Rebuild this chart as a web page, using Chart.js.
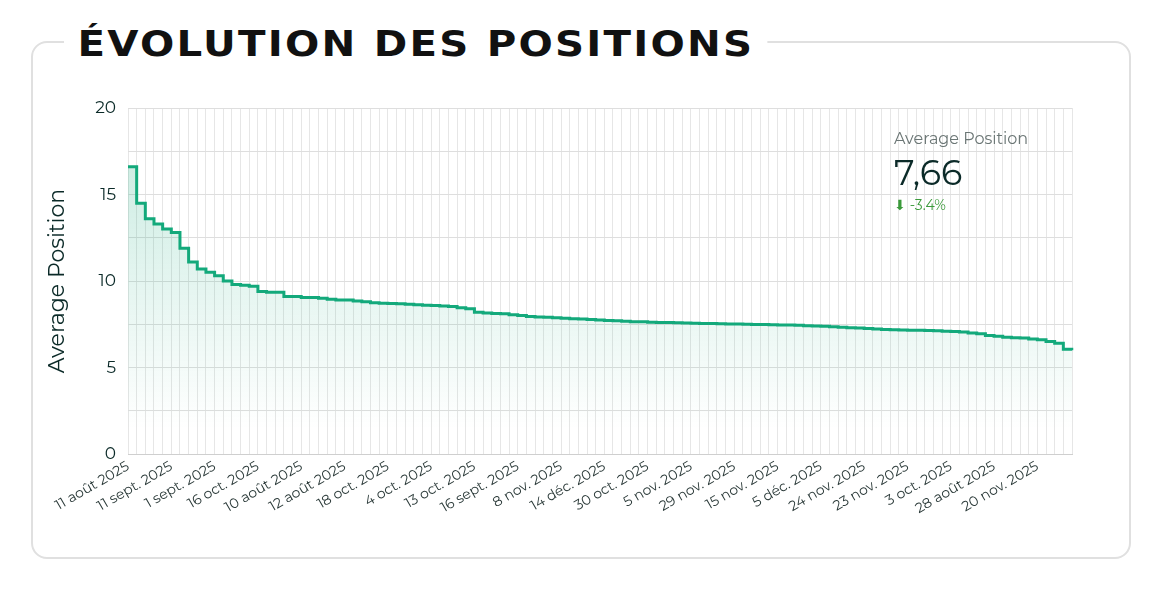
<!DOCTYPE html>
<html><head><meta charset="utf-8">
<script src="https://cdn.jsdelivr.net/npm/chart.js@4"></script>
<style>
body{margin:0;background:#fff;font-family:Montserrat,"Noto Sans",sans-serif}
#card{position:absolute;left:31px;top:41px;width:1096px;height:514px;border:2px solid #e0e0e0;border-radius:16px}
#ttl{position:absolute;left:64px;top:23px;padding:0 12px;background:#fff;font:900 36px "DejaVu Sans",sans-serif;letter-spacing:2px;color:#111;transform:scaleX(1.12);transform-origin:left}
#cv{position:absolute;left:0;top:0}
#kpi{position:absolute;left:894px;top:129px;color:#0b2a28}
#kpi .l{font-size:16px;color:#6b7675}
#kpi .v{font-size:35px;margin-top:3px}
#kpi .d{font-size:14px;color:#3b9a3b;margin-top:2px}
</style></head><body>
<div id="card"></div>
<canvas id="cv" width="1150" height="598"></canvas>
<div id="ttl">ÉVOLUTION DES POSITIONS</div>
<div id="kpi"><div class="l">Average Position</div><div class="v">7,66</div><div class="d">⬇ -3.4%</div></div>
<script>
// values are sorted by position, not by date (as in the source)
const positions=[16.6,14.5,13.6,13.3,13.0,12.8,11.9,11.1,10.7,10.5,10.3,10.0,9.8,9.75,9.7,9.4,9.35,9.35,9.1,
9.1,9.05,9.05,9.0,8.95,8.9,8.9,
8.85,8.8,8.75,8.72,8.7,
8.68,8.65,8.62,8.6,8.58,8.55,8.52,
8.45,8.4,8.2,
8.15,8.12,8.1,8.05,8.0,
7.95,7.92,7.9,7.88,
7.85,7.82,7.8,7.78,7.75,7.72,
7.7,7.68,7.65,7.64,7.62,7.6,
7.6,7.58,7.57,7.56,7.55,7.54,
7.53,7.52,7.51,7.5,7.49,7.48,7.47,
7.46,7.45,7.44,7.42,7.4,7.38,7.35,
7.33,7.3,7.28,7.25,7.22,7.2,
7.18,7.17,7.16,7.15,7.14,7.12,7.1,
7.08,7.05,7.0,6.95,6.85,6.8,6.75,
6.72,6.7,6.65,6.6,6.5,6.4,6.05,6.0];
const tickLabels=['11 août 2025','11 sept. 2025','1 sept. 2025','16 oct. 2025','10 août 2025','12 août 2025','18 oct. 2025','4 oct. 2025','13 oct. 2025','16 sept. 2025','8 nov. 2025','14 déc. 2025','30 oct. 2025','5 nov. 2025','29 nov. 2025','15 nov. 2025','5 déc. 2025','24 nov. 2025','23 nov. 2025','3 oct. 2025','28 août 2025','20 nov. 2025'];
const labelEvery=5;
const categories=positions.map((v,i)=>i);
const yTicks=[0,5,10,15,20];

const ctx=document.getElementById('cv').getContext('2d');
const grad=ctx.createLinearGradient(0,170,0,430);
grad.addColorStop(0,'rgba(18,168,122,0.2)');
grad.addColorStop(1,'rgba(18,168,122,0)');
new Chart(ctx,{type:'line',
  data:{labels:categories,datasets:[{data:positions,stepped:true,borderColor:'#13a97b',borderWidth:3,backgroundColor:grad,fill:'origin',pointRadius:0}]},
  options:{responsive:false,animation:false,
    layout:{padding:{left:40,right:78,top:108,bottom:40}},
    plugins:{legend:{display:false},tooltip:{enabled:false}},
    scales:{
      x:{offset:false,grid:{color:'#e6e6e6',drawTicks:false},border:{color:'#cfcfcf'},
        afterFit:s=>{s.height=104},
        ticks:{autoSkip:false,maxRotation:30,minRotation:30,padding:4,color:'#2b3a39',font:{family:'Montserrat, Noto Sans',size:14},
          callback:(v,i)=>i%labelEvery===0?(tickLabels[i/labelEvery]||''):''}},
      y:{min:0,max:20,afterFit:s=>{s.width=88},
        grid:{color:'#dedede',drawTicks:false},border:{display:false},
        title:{display:true,text:'Average Position',color:'#0b2a28',font:{family:'Montserrat, Noto Sans',size:22}},
        ticks:{stepSize:2.5,padding:12,color:'#0b2a28',font:{family:'Montserrat, Noto Sans',size:17},
          callback:v=>yTicks.includes(v)?v:''}}
    }}});
</script>
</body></html>
